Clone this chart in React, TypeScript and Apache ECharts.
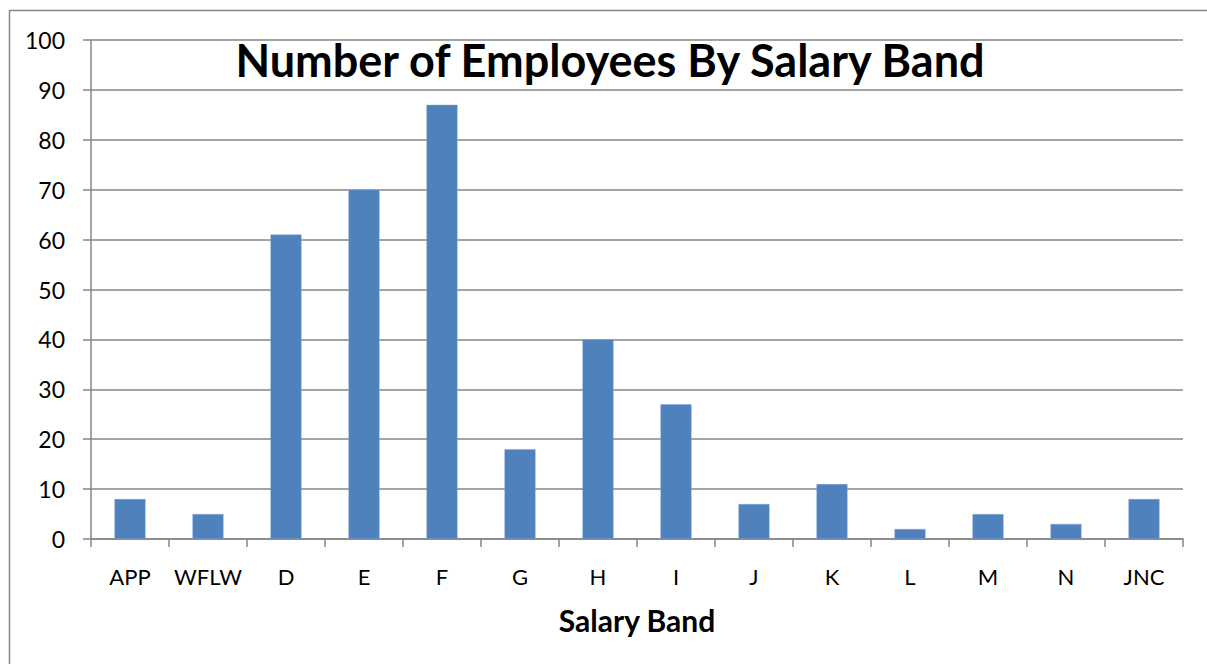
import React, { useEffect, useRef } from "react";
import * as echarts from "echarts";

const categories = ["APP", "WFLW", "D", "E", "F", "G", "H", "I", "J", "K", "L", "M", "N", "JNC"];
const employees = [8, 5, 61, 70, 87, 18, 40, 27, 7, 11, 2, 5, 3, 8];
const titleText = "Number of Employees By Salary Band";
const xAxisName = "Salary Band";

const FONT = "Lato, 'Noto Sans', sans-serif";
const GRAY = "#868686";

export default function App() {
  const ref = useRef<HTMLDivElement>(null);
  useEffect(() => {
    if (!ref.current) return;
    const chart = echarts.init(ref.current, undefined, { renderer: "svg" });
    chart.setOption({
      animation: false,
      backgroundColor: "#ffffff",
      textStyle: { fontFamily: FONT },
      title: {
        text: titleText,
        left: 610,
        textAlign: "center",
        top: 37,
        padding: 0,
        textStyle: { fontFamily: FONT, fontSize: 45, fontWeight: "bold", color: "#000" },
      },
      graphic: [
        {
          type: "rect",
          shape: { x: 9.5, y: 10.5, width: 1220, height: 680 },
          style: { fill: "none", stroke: GRAY, lineWidth: 1.5 },
          silent: true,
          z: -1,
        },
      ],
      grid: { left: 91, right: 24, top: 40, bottom: 125, containLabel: false },
      xAxis: {
        type: "category",
        data: categories,
        name: xAxisName,
        nameLocation: "middle",
        nameGap: 66,
        nameTextStyle: { fontFamily: FONT, fontSize: 30, fontWeight: "bold", color: "#000" },
        axisLine: { show: true, lineStyle: { color: GRAY, width: 1.5 } },
        axisTick: { show: true, alignWithLabel: false, length: 8, lineStyle: { color: GRAY, width: 1.5 } },
        axisLabel: { fontFamily: FONT, fontSize: 22, color: "#000", margin: 26, interval: 0 },
        splitLine: { show: false },
      },
      yAxis: {
        type: "value",
        min: 0,
        max: 100,
        interval: 10,
        axisLine: { show: true, lineStyle: { color: GRAY, width: 1.5 } },
        axisTick: { show: true, length: 8, lineStyle: { color: GRAY, width: 1.5 } },
        axisLabel: { fontFamily: FONT, fontSize: 23, color: "#000", margin: 26 },
        splitLine: { show: true, lineStyle: { color: GRAY, width: 1.5 } },
      },
      series: [
        {
          type: "bar",
          data: employees,
          barWidth: 31,
          itemStyle: { color: "#4F81BD", borderColor: "#7fa3d3", borderWidth: 0.5 },
        },
      ],
    });
    return () => chart.dispose();
  }, []);
  return (
    <div
      ref={ref}
      style={{ position: "fixed", left: 0, top: 0, width: 1207, height: 664, background: "#fff" }}
    />
  );
}
